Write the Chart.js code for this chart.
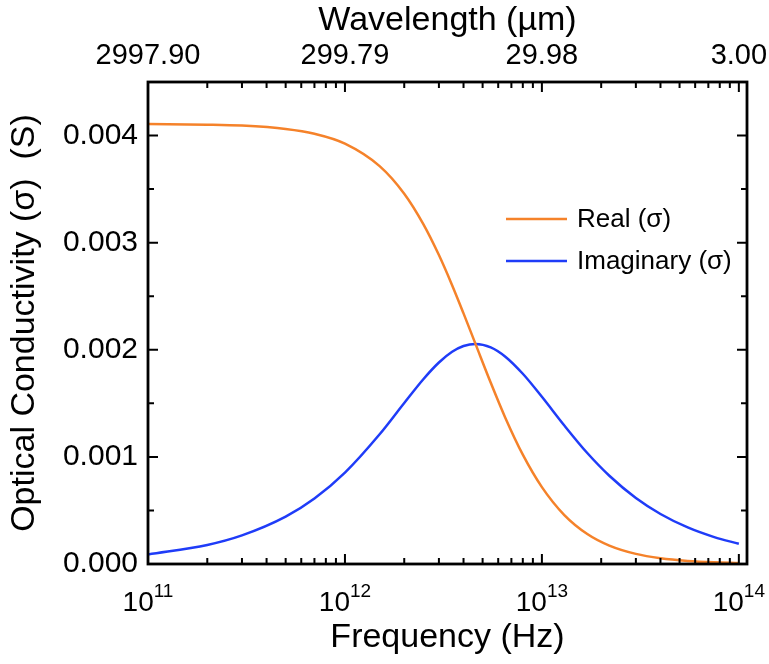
<!DOCTYPE html>
<html>
<head>
<meta charset="utf-8">
<title>Optical Conductivity</title>
<script src="https://cdn.jsdelivr.net/npm/chart.js@4.4.1/dist/chart.umd.min.js"></script>
<style>
  html, body { margin: 0; padding: 0; background: #fff; }
  canvas { display: block; }
</style>
</head>
<body>
<canvas id="my-chart" width="769" height="664"></canvas>
<script>
'use strict';

// ***************** DATA ***************** //

let frequencies = [1e11, 2e11, 3e11, 5e11, 7e11, 1e12, 1.5e12, 2e12, 2.5e12, 3e12, 3.5e12, 4e12, 4.6e12,
  5.5e12, 6.5e12, 8e12, 1e13, 1.3e13, 1.7e13, 2.2e13, 3e13, 4e13, 5.5e13, 7.5e13, 1e14];

let realValues = [0.004108, 0.004102, 0.004093, 0.004062, 0.004017, 0.003925, 0.003715, 0.003457, 0.003173,
  0.002884, 0.002603, 0.002340, 0.002055, 0.001692, 0.001371, 0.001021, 0.000718, 0.000457, 0.000280,
  0.000172, 0.0000944, 0.0000537, 0.0000286, 0.0000154, 0.0000087];

let imagValues = [0.0000893, 0.000178, 0.000267, 0.000442, 0.000611, 0.000853, 0.001211, 0.001503, 0.001725,
  0.001881, 0.001981, 0.002035, 0.002055, 0.002023, 0.001938, 0.001776, 0.001561, 0.001293, 0.001036,
  0.000824, 0.000616, 0.000467, 0.000341, 0.000251, 0.000189];

let seriesNames = ['Real (σ)', 'Imaginary (σ)'];
let seriesColors = ['#F5822A', '#1F3CF8'];

let freqTicks = [1e11, 1e12, 1e13, 1e14];
let freqExponents = ['11', '12', '13', '14'];
let wavelengthLabels = ['2997.90', '299.79', '29.98', '3.00'];
let yTicks = [0, 0.001, 0.002, 0.003, 0.004];

// ***************** HELPERS ***************** //

let FONT = '"Liberation Sans", Arial, sans-serif';

function toPoints(xs, ys) {
  let pts = [];
  for (let i = 0; i < xs.length; i++) {
    pts.push({ x: xs[i], y: ys[i] });
  }
  return pts;
}

// frame, inward ticks, power-of-ten labels and the legend
let framePlugin = {
  id: 'framePlugin',
  afterDraw(chart) {
    let ctx = chart.ctx;
    let area = chart.chartArea;
    let sx = chart.scales.x;
    let sy = chart.scales.y;

    ctx.save();
    ctx.strokeStyle = '#000';

    // x ticks, bottom and top
    ctx.lineWidth = 2;
    for (let d = 11; d <= 14; d++) {
      for (let m = 1; m <= 9; m++) {
        let v = m * Math.pow(10, d);
        if (v > sx.max) break;
        let px = sx.getPixelForValue(v);
        let len = m === 1 ? 10 : 6;
        ctx.beginPath();
        ctx.moveTo(px, area.bottom);
        ctx.lineTo(px, area.bottom - len);
        ctx.moveTo(px, area.top);
        ctx.lineTo(px, area.top + len);
        ctx.stroke();
      }
    }

    // y ticks, left and right
    for (let k = 0; k <= 9; k++) {
      let v = k * 0.0005;
      if (v > sy.max) break;
      let py = sy.getPixelForValue(v);
      let len = k % 2 === 0 ? 10 : 6;
      ctx.beginPath();
      ctx.moveTo(area.left, py);
      ctx.lineTo(area.left + len, py);
      ctx.moveTo(area.right, py);
      ctx.lineTo(area.right - len, py);
      ctx.stroke();
    }

    // frame
    ctx.lineWidth = 2.8;
    ctx.strokeRect(area.left, area.top, area.right - area.left, area.bottom - area.top);

    // bottom labels 10^n
    ctx.fillStyle = '#000';
    ctx.textBaseline = 'alphabetic';
    ctx.textAlign = 'left';
    for (let i = 0; i < freqTicks.length; i++) {
      let px = sx.getPixelForValue(freqTicks[i]);
      ctx.font = '28px ' + FONT;
      let wBase = ctx.measureText('10').width;
      ctx.font = '19px ' + FONT;
      let wExp = ctx.measureText(freqExponents[i]).width;
      let x0 = px - (wBase + wExp) / 2;
      ctx.font = '28px ' + FONT;
      ctx.fillText('10', x0, area.bottom + 47);
      ctx.font = '19px ' + FONT;
      ctx.fillText(freqExponents[i], x0 + wBase, area.bottom + 33);
    }

    // legend
    let legendY = [219, 261];
    ctx.font = '26px ' + FONT;
    ctx.textBaseline = 'middle';
    for (let i = 0; i < seriesNames.length; i++) {
      ctx.strokeStyle = seriesColors[i];
      ctx.lineWidth = 2.5;
      ctx.beginPath();
      ctx.moveTo(506, legendY[i]);
      ctx.lineTo(567, legendY[i]);
      ctx.stroke();
      ctx.fillText(seriesNames[i], 577, legendY[i] + 1);
    }
    ctx.restore();
  }
};

function fixHeight(h) {
  return function (scale) {
    scale.height = h;
    scale.paddingLeft = 0;
    scale.paddingRight = 0;
  };
}

// ***************** CHART ***************** //

let ctx = document.getElementById('my-chart').getContext('2d');

let myChartObj = {
  type: 'line',
  data: {
    datasets: [{
      label: seriesNames[0],
      data: toPoints(frequencies, realValues),
      borderColor: seriesColors[0],
      borderWidth: 2.5,
      pointRadius: 0,
      cubicInterpolationMode: 'monotone',
      fill: false
    },
    {
      label: seriesNames[1],
      data: toPoints(frequencies, imagValues),
      borderColor: seriesColors[1],
      borderWidth: 2.5,
      pointRadius: 0,
      cubicInterpolationMode: 'monotone',
      fill: false
    }]
  },
  options: {
    responsive: false,
    animation: false,
    devicePixelRatio: 1,
    layout: { padding: { right: 22, left: 0, top: 0, bottom: 0 } },
    plugins: {
      legend: { display: false },
      tooltip: { enabled: false }
    },
    scales: {
      x: {
        type: 'logarithmic',
        position: 'bottom',
        min: 1e11,
        max: 1.1e14,
        ticks: { display: false },
        grid: { display: false },
        border: { display: false },
        title: {
          display: true,
          text: 'Frequency (Hz)',
          color: '#000',
          font: { family: FONT, size: 34 },
          padding: { top: 0, bottom: 6 }
        },
        afterFit: fixHeight(100)
      },
      x2: {
        type: 'logarithmic',
        position: 'top',
        min: 1e11,
        max: 1.1e14,
        afterBuildTicks(scale) {
          scale.ticks = freqTicks.map(v => ({ value: v }));
        },
        ticks: {
          color: '#000',
          font: { family: FONT, size: 29 },
          maxRotation: 0,
          autoSkip: false,
          padding: 9,
          callback: (value, index) => wavelengthLabels[index]
        },
        grid: { display: false, drawTicks: false, tickLength: 0 },
        border: { display: false },
        title: {
          display: true,
          text: 'Wavelength (µm)',
          color: '#000',
          font: { family: FONT, size: 34 },
          padding: { top: 0, bottom: 0 }
        },
        afterFit: fixHeight(82)
      },
      y: {
        min: 0,
        max: 0.0045,
        afterBuildTicks(scale) {
          scale.ticks = yTicks.map(v => ({ value: v }));
        },
        ticks: {
          color: '#000',
          font: { family: FONT, size: 30 },
          padding: 10,
          callback: value => value.toFixed(3)
        },
        grid: { display: false, drawTicks: false, tickLength: 0 },
        border: { display: false },
        title: {
          display: true,
          text: 'Optical Conductivity (σ)  (S)',
          color: '#000',
          font: { family: FONT, size: 34 },
          padding: { top: 4, bottom: 0 }
        },
        afterFit(scale) {
          scale.width = 148;
          scale.paddingTop = 0;
          scale.paddingBottom = 0;
        }
      }
    }
  },
  plugins: [framePlugin]
};

new Chart(ctx, myChartObj);
</script>
</body>
</html>
